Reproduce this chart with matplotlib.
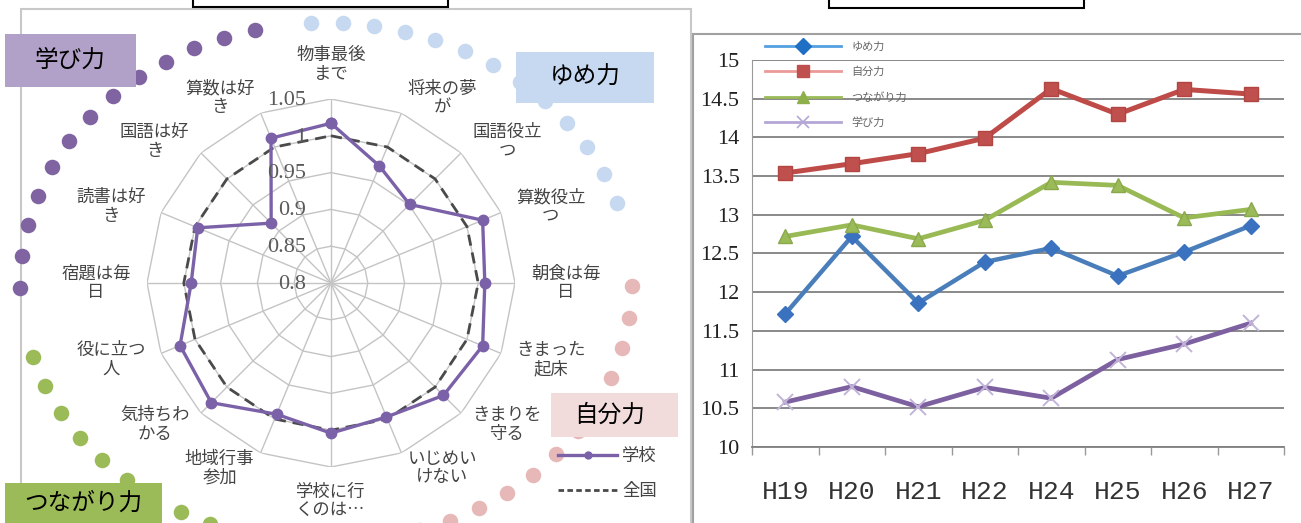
import numpy as np
import matplotlib.pyplot as plt
from matplotlib.patches import Rectangle
from matplotlib.lines import Line2D

plt.rcParams['font.family'] = ['Noto Sans CJK JP', 'DejaVu Sans']

# radar: school compared with national (national = 1)
items = ['物事最後\nまで', '将来の夢\nが', '国語役立\nつ', '算数役立\nつ', '朝食は毎\n日',
         'きまった\n起床', 'きまりを\n守る', 'いじめい\nけない', '学校に行\nくのは…',
         '地域行事\n参加', '気持ちわ\nかる', '役に立つ\n人', '宿題は毎\n日',
         '読書は好\nき', '国語は好\nき', '算数は好\nき']
school = [1.017, 0.972, 0.951, 1.023, 1.009, 1.023, 1.016, 0.997,
          1.004, 0.993, 1.03, 1.022, 0.99, 0.996, 0.915, 1.013]
national = [1.0] * 16
r_ticks = [0.8, 0.85, 0.9, 0.95, 1.0, 1.05]
r_labels = ['0.8', '0.85', '0.9', '0.95', '1', '1.05']
radar_legend = ['学校', '全国']

# line chart: yearly scores of the four abilities
years = ['H19', 'H20', 'H21', 'H22', 'H24', 'H25', 'H26', 'H27']
yume = [11.72, 12.72, 11.86, 12.39, 12.57, 12.21, 12.52, 12.86]
jibun = [13.54, 13.66, 13.79, 13.99, 14.63, 14.30, 14.62, 14.56]
tsunagari = [12.72, 12.87, 12.69, 12.93, 13.42, 13.38, 12.96, 13.07]
manabi = [10.58, 10.78, 10.52, 10.77, 10.63, 11.13, 11.33, 11.60]
series_names = ['ゆめ力', '自分力', 'つながり力', '学び力']

# dotted ring around the radar, one colour per ability
ring_groups = ['ゆめ力', '学び力', 'つながり力', '自分力']
ring_colors = ['#c6d9f1', '#8064a2', '#9bbb59', '#e6b9b8']
ring_start = [18, 103.5, 196.5, 282]
ring_count = [13, 13, 14, 13]

W, H = 1301, 523
fig = plt.figure(figsize=(W / 100, H / 100), dpi=100)

# background layer in pixel coordinates
deco = fig.add_axes([0, 0, 1, 1], zorder=0)
deco.set_xlim(0, W)
deco.set_ylim(H, 0)
deco.axis('off')

deco.add_patch(Rectangle((21, 9), 670, 530, fc='white', ec='#c8c8c8', lw=1.5, zorder=1))
deco.add_patch(Rectangle((693, 34), 630, 500, fc='white', ec='#a0a0a0', lw=1.5, zorder=1))
deco.add_patch(Rectangle((193, -5), 255, 12, fc='white', ec='black', lw=1.5, zorder=1))
deco.add_patch(Rectangle((829, -5), 255, 13, fc='white', ec='black', lw=1.5, zorder=1))

ecx, ecy, ea, eb = 326, 283, 306, 260
t = np.radians(np.linspace(0, 720, 14401))
ex = ecx + ea * np.cos(t)
ey = ecy - eb * np.sin(t)
s = np.concatenate([[0], np.cumsum(np.hypot(np.diff(ex), np.diff(ey)))])
for start, n, col in zip(ring_start, ring_count, ring_colors):
    s0 = np.interp(np.radians(start), t, s)
    ss = s0 + 31.5 * np.arange(n)
    deco.scatter(np.interp(ss, s, ex), np.interp(ss, s, ey), s=125, color=col, lw=0, zorder=2)

boxes = [((5, 34, 131, 53), '#b1a0c7'), ((516, 52, 138, 51), '#c6d9f1'),
         ((551, 393, 127, 44), '#f2dcdb'), ((5, 483, 157, 50), '#9bbb59')]
for (bx, by, bw, bh), fc in boxes:
    deco.add_patch(Rectangle((bx, by), bw, bh, fc=fc, ec='none', zorder=3))
deco.text(70, 60, '学び力', fontsize=17, ha='center', va='center', zorder=4)
deco.text(585, 77, 'ゆめ力', fontsize=17, ha='center', va='center', zorder=4)
deco.text(610, 415, '自分力', fontsize=17, ha='center', va='center', zorder=4)
deco.text(83, 503, 'つながり力', fontsize=17, ha='center', va='center', zorder=4)

# radar chart
cx, cy, R = 331, 283, 184
ax = fig.add_axes([(cx - R) / W, (H - cy - R) / H, 2 * R / W, 2 * R / H],
                  projection='polar', zorder=2)
ax.set_facecolor('none')
ax.set_theta_offset(np.pi / 2)
ax.set_theta_direction(-1)
ax.set_ylim(0.8, 1.05)
ax.grid(False)
ax.set_xticks([])
ax.set_yticks([])
ax.spines['polar'].set_visible(False)

theta = np.linspace(0, 2 * np.pi, len(items), endpoint=False)
tc = np.append(theta, theta[0])
for r in r_ticks[1:]:
    ax.plot(tc, [r] * len(tc), color='#c4c4c4', lw=1)
for th in theta:
    ax.plot([th, th], [0.8, 1.05], color='#c4c4c4', lw=1)

ax.plot(tc, national + national[:1], color='#4a4a4a', lw=2, ls=(0, (4, 2.5)))
ax.plot(tc, school + school[:1], color='#7b62a8', lw=2.4, marker='o', ms=7.5)

for v, lab in zip(r_ticks, r_labels):
    ax.annotate(lab, xy=(0, v), xytext=(-18, -1), textcoords='offset points',
                ha='right', va='center', fontsize=16, color='#5a5a5a',
                family='Liberation Serif')

for th, lab in zip(theta, items):
    sx, cyy = np.sin(th), np.cos(th)
    ha = 'center' if abs(sx) < 0.01 else ('left' if sx > 0 else 'right')
    va = 'center' if abs(sx) > 0.01 else ('bottom' if cyy > 0 else 'top')
    ax.text(th, 1.072, lab, ha=ha, va=va, multialignment='center',
            fontsize=12.5, color='#444444', linespacing=1.05)

h1 = Line2D([], [], color='#7b62a8', lw=2.4, marker='o', ms=5)
h2 = Line2D([], [], color='#4a4a4a', lw=2, ls=(0, (2, 1.2)))
ax.legend([h1, h2], radar_legend, loc='upper left', bbox_to_anchor=(558 / W, 1 - 447 / H),
          bbox_transform=fig.transFigure, frameon=False, fontsize=12.5,
          handlelength=3.4, handletextpad=0.3, labelspacing=1.0,
          borderpad=0, borderaxespad=0, labelcolor='#444444')

# line chart
ax2 = fig.add_axes([752 / W, (H - 447) / H, 532 / W, 387 / H], zorder=2)
x = np.arange(len(years))
ax2.plot(x, yume, color='#4a7ebb', lw=3.2, marker='D', ms=8, mfc='#3a72c0', mec='#3a72c0')
ax2.plot(x, jibun, color='#be4b48', lw=3.6, marker='s', ms=10, mfc='#c0504d', mec='#b04542')
ax2.plot(x, tsunagari, color='#98b954', lw=3.4, marker='^', ms=10, mfc='#9bbb59', mec='#8aa84c')
ax2.plot(x, manabi, color='#7d60a0', lw=3.4, marker='x', ms=11, mew=1.4, mec='#c2b4d8')

ax2.set_xlim(-0.5, len(years) - 0.5)
ax2.set_ylim(10, 15)
yt = np.arange(10, 15.01, 0.5)
ax2.set_yticks(yt)
ax2.set_yticklabels([f'{v:g}' for v in yt], family='Liberation Serif', fontsize=16,
                    color='#222222')
ax2.set_xticks(x)
ax2.set_xticklabels(years, family='Liberation Mono', fontsize=19, color='#333333')
ax2.set_xticks(np.arange(-0.5, len(years)), minor=True)
ax2.tick_params(axis='y', length=0, pad=9)
ax2.tick_params(axis='x', which='major', length=0, pad=24)
ax2.tick_params(axis='x', which='minor', length=6, color='#999999', width=1)
ax2.yaxis.grid(True, color='#808080', lw=1.3)
ax2.set_axisbelow(True)
for side in ['top', 'right']:
    ax2.spines[side].set_visible(False)
ax2.spines['left'].set_color('#9a9a9a')
ax2.spines['bottom'].set_color('#808080')
ax2.spines['bottom'].set_linewidth(1.3)

lh = [Line2D([], [], color='#55a0e0', lw=2, marker='D', ms=8, mfc='#1f6fc5', mec='#1f6fc5'),
      Line2D([], [], color='#eb9a98', lw=2, marker='s', ms=8, mfc='#c0504d', mec='#c0504d'),
      Line2D([], [], color='#9bbb59', lw=2, marker='^', ms=8, mfc='#8db04a', mec='#8db04a'),
      Line2D([], [], color='#b4a7d6', lw=2, marker='x', ms=9, mew=1.2, mec='#b4a7d6')]
ax2.legend(lh, series_names, loc='upper left', bbox_to_anchor=(765 / W, 1 - 42 / H),
           bbox_transform=fig.transFigure, frameon=False, fontsize=8,
           handlelength=6.8, handletextpad=1.0, labelspacing=1.3,
           borderpad=0, borderaxespad=0, labelcolor='#666666')

fig.savefig('out.png', dpi=100)
